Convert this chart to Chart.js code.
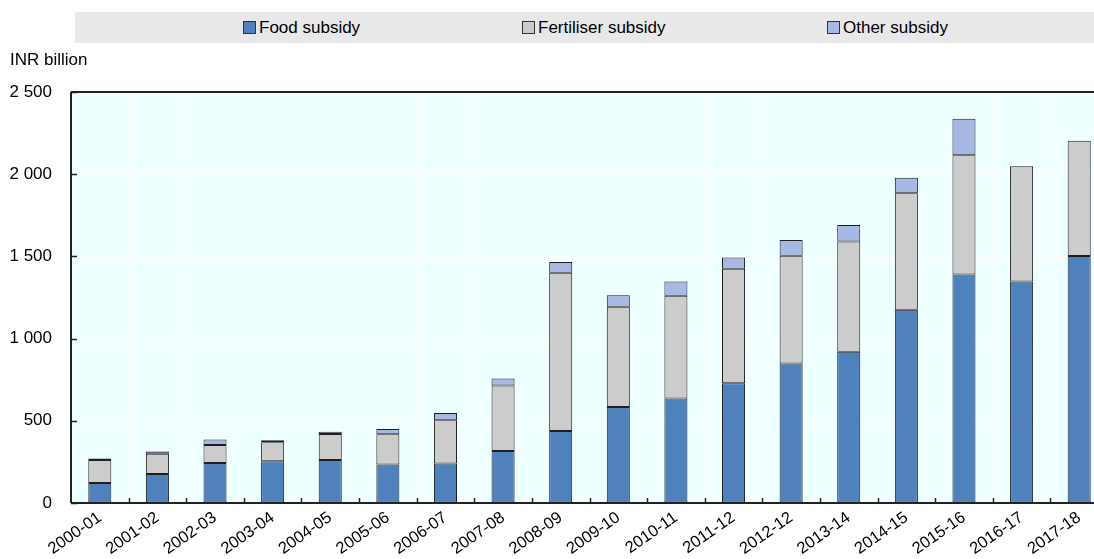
<!DOCTYPE html>
<html>
<head>
<meta charset="utf-8">
<script src="https://cdn.jsdelivr.net/npm/chart.js@4.4.1/dist/chart.umd.min.js"></script>
<style>
  html, body { margin: 0; padding: 0; background: #fff; }
  body { width: 1094px; height: 559px; overflow: hidden; position: relative;
         font-family: "Liberation Sans", Arial, sans-serif; }
  #legend { position: absolute; left: 75px; top: 12px; width: 1019px; height: 31px; background: #E8E8E8; }
  .item { position: absolute; top: 0; height: 31px; display: flex; align-items: center; font-size: 17px; color: #000; white-space: nowrap; }
  .sw { width: 11px; height: 11px; border: 1px solid #333; margin-right: 3px; box-sizing: content-box; }
  #unit { position: absolute; left: 10px; top: 50px; font-size: 17px; color: #000; white-space: nowrap; }
  #wrap { position: absolute; left: 0; top: 0; width: 1108px; height: 559px; }
</style>
</head>
<body>
<div id="wrap"><canvas id="c" width="1108" height="559"></canvas></div>
<div id="legend"></div>
<div id="unit">INR billion</div>
<script>
const categories = ['2000-01','2001-02','2002-03','2003-04','2004-05','2005-06','2006-07','2007-08','2008-09','2009-10','2010-11','2011-12','2012-12','2013-14','2014-15','2015-16','2016-17','2017-18'];
const foodSubsidy = [121,176,243,254,262,234,241,316,438,584,636,728,849,920,1175,1390,1348,1502];
const fertiliserSubsidy = [141,124,110,115,158,184,262,398,963,610,625,697,655,670,709,726,701,702];
const otherSubsidy = [8,14,33,12,14,32,44,43,65,69,87,69,96,101,94,222,null,null];
const seriesNames = ['Food subsidy','Fertiliser subsidy','Other subsidy'];
const seriesColors = ['#4F81BD','#CCCCCC','#A7B8E4'];
const yTicks = [0,500,1000,1500,2000,2500];

// HTML legend
const legendPos = [243, 522, 827];
const lg = document.getElementById('legend');
seriesNames.forEach((n,i)=>{
  const d = document.createElement('div');
  d.className = 'item';
  d.style.left = (legendPos[i]-75) + 'px';
  d.innerHTML = '<span class="sw" style="background:'+seriesColors[i]+'"></span><span>'+n+'</span>';
  lg.appendChild(d);
});

const fontFam = '"Liberation Sans", Arial, sans-serif';
const AXIS = '#222222';

const decor = {
  id: 'decor',
  beforeDraw(chart) {
    const {ctx, chartArea: a} = chart;
    ctx.save();
    ctx.fillStyle = '#F0FFFF';
    ctx.fillRect(a.left, a.top, a.right - a.left, a.bottom - a.top);
    ctx.restore();
  },
  afterDraw(chart) {
    const {ctx, chartArea: a, scales} = chart;
    ctx.save();
    ctx.strokeStyle = AXIS;
    ctx.lineWidth = 2;
    ctx.beginPath();
    ctx.moveTo(a.left, a.top); ctx.lineTo(a.right, a.top);
    ctx.moveTo(a.left, a.top); ctx.lineTo(a.left, a.bottom);
    ctx.moveTo(a.left, a.bottom); ctx.lineTo(a.right, a.bottom);
    ctx.stroke();
    ctx.lineWidth = 1.5;
    ctx.beginPath();
    yTicks.forEach(v=>{
      const y = Math.round(scales.y.getPixelForValue(v)) + 0.5;
      ctx.moveTo(a.left, y); ctx.lineTo(a.left + 6, y);
    });
    const n = categories.length;
    const w = (a.right - a.left) / n;
    for (let i = 1; i < n; i++) {
      const x = Math.round(a.left + i * w) + 0.5;
      ctx.moveTo(x, a.bottom); ctx.lineTo(x, a.bottom - 5);
    }
    ctx.stroke();
    ctx.restore();
  }
};

const mk = (i, data) => ({
  label: seriesNames[i], data, backgroundColor: seriesColors[i],
  borderColor: '#1E1E1E', borderWidth: 1, borderSkipped: false,
  categoryPercentage: 1.0, barPercentage: 0.4
});

new Chart(document.getElementById('c'), {
  type: 'bar',
  data: {
    labels: categories,
    datasets: [mk(0, foodSubsidy), mk(1, fertiliserSubsidy), mk(2, otherSubsidy)]
  },
  options: {
    responsive: false,
    animation: false,
    devicePixelRatio: 1,
    layout: { padding: { top: 92, right: 0, left: 0, bottom: 0 } },
    plugins: { legend: { display: false }, tooltip: { enabled: false } },
    scales: {
      x: {
        stacked: true,
        grid: { color: '#FFFFFF', lineWidth: 1, drawTicks: false, offset: true },
        border: { display: false },
        ticks: { autoSkip: false, minRotation: 35, maxRotation: 35, padding: 5,
                 color: '#000', font: { family: fontFam, size: 16.5 } },
        afterFit(s) { s.height = 56; }
      },
      y: {
        stacked: true, min: 0, max: 2500,
        grid: { color: '#FFFFFF', lineWidth: 1, drawTicks: false },
        border: { display: false },
        ticks: { stepSize: 500, padding: 19, color: '#000', font: { family: fontFam, size: 17 },
                 callback: v => String(v).replace(/\B(?=(\d{3})+(?!\d))/g, ' ') },
        afterFit(s) { s.width = 71; }
      }
    }
  },
  plugins: [decor]
});
</script>
</body>
</html>
